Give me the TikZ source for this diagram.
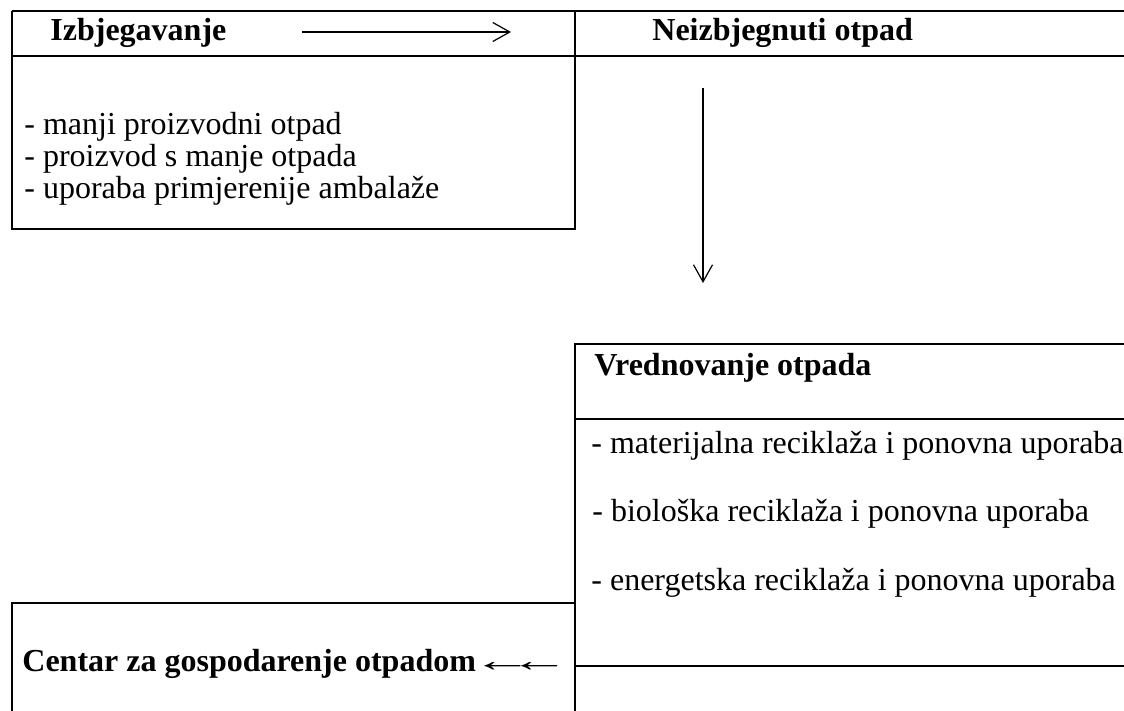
\documentclass[tikz,border=0pt]{standalone}
\usepackage{fontspec}
\setmainfont{Liberation Serif}
\usetikzlibrary{arrows.meta}
\newcommand{\longleftarr}{\scalebox{1.9}[1]{←}}
\begin{document}
\begin{tikzpicture}[x=0.5pt,y=-0.5pt,
  frame/.style={line width=0.75pt},
  heavy/.style={line width=1pt},
  lbl/.style={anchor=base west,inner sep=0pt,font=\fontsize{16}{19}\selectfont},
  head/.style={lbl,font=\fontsize{16}{19}\selectfont\bfseries},
  conn/.style={line width=0.6pt,-{Straight Barb[length=8.5pt,width=9.5pt]}}
]
\useasboundingbox (0,0) rectangle (1124,711);
% frames
\draw[heavy] (12,11) -- (1124,11);
\draw[heavy] (12,56) -- (1124,56);
\draw[frame] (12,11) -- (12,229) -- (575,229) -- (575,11);
\draw[frame] (1124,344) -- (575,344) -- (575,711);
\draw[frame] (575,419) -- (1124,419);
\draw[frame] (575,666) -- (1124,666);
\draw[frame] (575,603) -- (12,603) -- (12,711);
% texts
\node[head] (izb) at (50,41) {Izbjegavanje};
\node[head] (neiz) at (652,41) {Neizbjegnuti otpad};
\node[lbl] (b1) at (24,135) {- manji proizvodni otpad};
\node[lbl] (b2) at (24,167) {- proizvod s manje otpada};
\node[lbl] (b3) at (24,199) {- uporaba primjerenije ambalaže};
\node[head] (vred) at (594,375) {Vrednovanje otpada};
\node[lbl] (m1) at (591,453) {- materijalna reciklaža i ponovna uporaba};
\node[lbl] (m2) at (592,521) {- biološka reciklaža i ponovna uporaba};
\node[lbl] (m3) at (591,590) {- energetska reciklaža i ponovna uporaba};
\node[head] (centar) at (22,671) {Centar za gospodarenje otpadom\hspace{-2pt}{\mdseries\longleftarr\hspace{-12pt}\longleftarr}};
% connectors
\coordinate (a1) at (302,32);
\coordinate (a2) at (511,32);
\draw[conn] (a1) -- (a2);
\coordinate (d1) at (703,88);
\coordinate (d2) at (703,283);
\draw[conn] (d1) -- (d2);
\end{tikzpicture}
\end{document}
